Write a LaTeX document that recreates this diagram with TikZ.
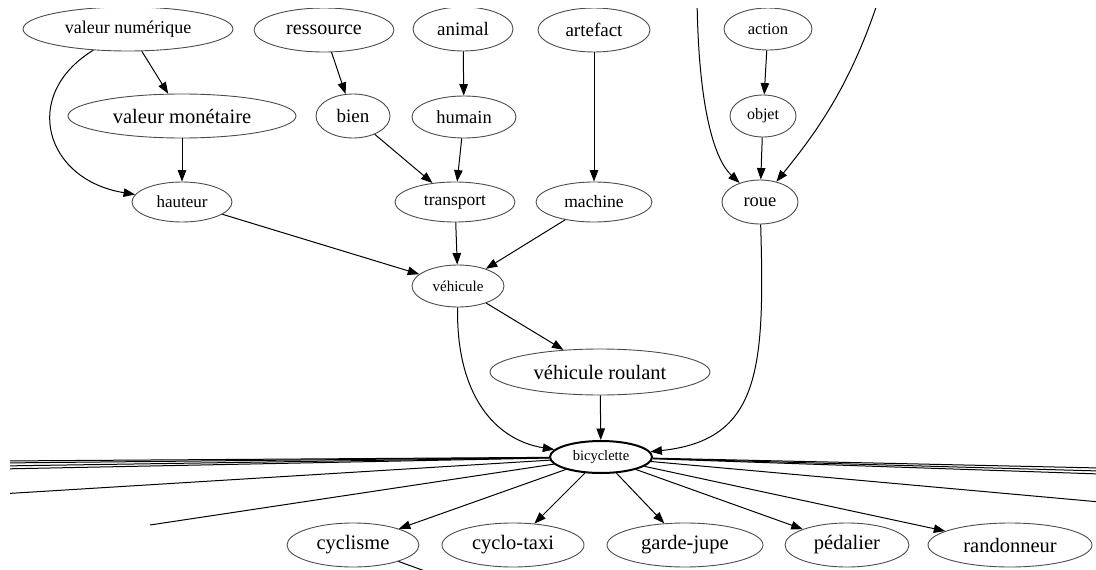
\documentclass[tikz,border=0pt]{standalone}
\usepackage{fontspec}
\setmainfont{Liberation Serif}
\usetikzlibrary{shapes.geometric,arrows.meta}

\tikzset{
  concept/.style={ellipse, draw=black!70, line width=0.9pt, inner sep=0pt},
  fs/.style={font=\fontsize{#1}{#1}\selectfont},
  link/.style={-{Triangle[length=11.5pt,width=8.5pt]}, line width=1pt},
  stub/.style={line width=1pt}
}

\begin{document}
\begin{tikzpicture}[x=1pt,y=-1pt]
\useasboundingbox (0,0) rectangle (1096,570);
\clip (10,8) rectangle (1096,570);

% Premiere rangee
\node [concept, fs=18, minimum width=210pt, minimum height=44pt] (vnum) at (128,29) {valeur numérique};
\node [concept, fs=20, minimum width=140pt, minimum height=44pt] (ress) at (324,30) {ressource};
\node [concept, fs=19, minimum width=100pt, minimum height=44pt] (anim) at (463,29) {animal};
\node [concept, fs=19, minimum width=112pt, minimum height=44pt] (arte) at (594,30) {artefact};
\node [concept, fs=16.5, minimum width=88pt, minimum height=42pt] (acti) at (768,29) {action};

% Deuxieme rangee
\node [concept, fs=20.5, minimum width=228pt, minimum height=44pt] (vmon) at (182,116) {valeur monétaire};
\node [concept, fs=19, minimum width=74pt, minimum height=44pt] (bien) at (353,116) {bien};
\node [concept, fs=18.5, minimum width=104pt, minimum height=42pt] (huma) at (464,117) {humain};
\node [concept, fs=16, minimum width=66pt, minimum height=42pt] (obje) at (763,116) {objet};

% Troisieme rangee
\node [concept, fs=17, minimum width=100pt, minimum height=40pt] (haut) at (182,202) {hauteur};
\node [concept, fs=17.5, minimum width=120pt, minimum height=40pt] (tran) at (455,202) {transport};
\node [concept, fs=17.5, minimum width=116pt, minimum height=40pt] (mach) at (594,202) {machine};
\node [concept, fs=18.5, minimum width=76pt, minimum height=44pt] (roue) at (760,202) {roue};

% Vehicules
\node [concept, fs=15, minimum width=92pt, minimum height=42pt] (vehi) at (458,286) {véhicule};
\node [concept, fs=20.5, minimum width=220pt, minimum height=46pt] (vrou) at (600,372) {véhicule roulant};
\node [concept, fs=14.5, minimum width=102pt, minimum height=32pt, draw=black, line width=2pt] (bicy) at (601,457) {bicyclette};

% Derniere rangee
\node [concept, fs=20.5, minimum width=132pt, minimum height=44pt] (cycl) at (353,545) {cyclisme};
\node [concept, fs=20.5, minimum width=142pt, minimum height=44pt] (ctax) at (513,545) {cyclo-taxi};
\node [concept, fs=20.5, minimum width=156pt, minimum height=44pt] (gjup) at (685,545) {garde-jupe};
\node [concept, fs=20.5, minimum width=124pt, minimum height=44pt] (peda) at (847,545) {pédalier};
\node [concept, fs=20.5, minimum width=164pt, minimum height=44pt] (rand) at (1010,545) {randonneur};

% Bouts hors cadre
\coordinate (nw) at (697,-5);
\coordinate (ne) at (880,-5);
\coordinate (w1) at (0,461);
\coordinate (w2) at (0,463);
\coordinate (w3) at (0,466);
\coordinate (w4) at (0,469);
\coordinate (w5) at (0,494);
\coordinate (w6) at (150,525);
\coordinate (e1) at (1100,468);
\coordinate (e2) at (1100,471);
\coordinate (e3) at (1100,474);
\coordinate (e4) at (1100,502);
\coordinate (s1) at (436,575);

% Aretes du haut
\draw [link] (vnum) -- (vmon);
\draw [link] (vnum) .. controls (20,95) and (45,180) .. (haut);
\draw [link] (vmon) -- (haut);
\draw [link] (ress) -- (bien);
\draw [link] (anim) -- (huma);
\draw [link] (bien) -- (tran);
\draw [link] (huma) -- (tran);
\draw [link] (arte) -- (mach);
\draw [link] (acti) -- (obje);
\draw [link] (obje) -- (roue);
\draw [link] (nw) .. controls (698,110) and (715,160) .. (roue);
\draw [link] (ne) .. controls (850,90) and (810,140) .. (roue);

% Vers vehicule et bicyclette
\draw [link] (haut) -- (vehi);
\draw [link] (tran) -- (vehi);
\draw [link] (mach) -- (vehi);
\draw [link] (vehi) -- (vrou);
\draw [link] (vehi) .. controls (456,395) and (495,440) .. (bicy);
\draw [link] (vrou) -- (bicy);
\draw [link] (roue) .. controls (765,370) and (760,440) .. (bicy);

% Depuis bicyclette
\draw [link] (bicy) -- (cycl);
\draw [link] (bicy) -- (ctax);
\draw [link] (bicy) -- (gjup);
\draw [link] (bicy) -- (peda);
\draw [link] (bicy) -- (rand);
\foreach \c in {w1,w2,w3,w4,w5,w6,e1,e2,e3,e4}
  \draw [stub] (bicy) -- (\c);
\draw [stub] (cycl) -- (s1);
\end{tikzpicture}
\end{document}
